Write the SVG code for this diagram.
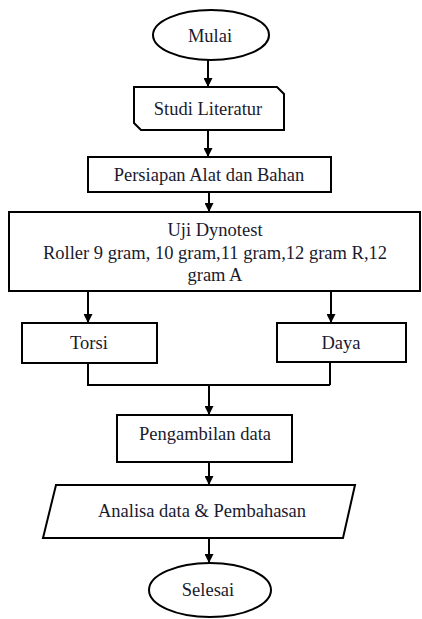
<svg xmlns="http://www.w3.org/2000/svg" width="422" height="619" viewBox="0 0 422 619">
<defs>
<marker id="arr" viewBox="0 0 10 10" refX="10" refY="5" markerWidth="4.5" markerHeight="4.5" orient="auto" markerUnits="strokeWidth">
<path d="M0,0 L10,5 L0,10 z" fill="#000"/>
</marker>
</defs>
<style>
.s{fill:#fff;stroke:#000;stroke-width:2}
text{font-family:'Liberation Serif','Times New Roman',serif;font-size:18.5px;fill:#1a1a2e;text-anchor:middle}
.c{fill:none;stroke:#000;stroke-width:2}
</style>
<rect width="422" height="619" fill="#fff"/>
<g id="connectors">
<line class="c" x1="208" y1="60" x2="208" y2="87" marker-end="url(#arr)"/>
<line class="c" x1="208" y1="130" x2="208" y2="157" marker-end="url(#arr)"/>
<line class="c" x1="209" y1="192" x2="209" y2="212" marker-end="url(#arr)"/>
<line class="c" x1="88" y1="291" x2="88" y2="323" marker-end="url(#arr)"/>
<line class="c" x1="331" y1="291" x2="331" y2="323" marker-end="url(#arr)"/>
<polyline class="c" points="88,363 88,385 330,385"/>
<line class="c" x1="330" y1="362" x2="330" y2="385"/>
<line class="c" x1="209" y1="385" x2="209" y2="415" marker-end="url(#arr)"/>
<line class="c" x1="209" y1="462" x2="209" y2="485" marker-end="url(#arr)"/>
<line class="c" x1="209" y1="538" x2="209" y2="563" marker-end="url(#arr)"/>
</g>
<g id="mulai">
<ellipse class="s" cx="211" cy="35" rx="58" ry="25"/>
<text x="210" y="42">Mulai</text>
</g>
<g id="studi">
<path class="s" d="M134,87 L277,87 L284,94 L284,130 L141,130 L134,123 Z"/>
<text x="208" y="115">Studi Literatur</text>
</g>
<g id="persiapan">
<rect class="s" x="88" y="157" width="243" height="35"/>
<text x="209" y="181">Persiapan Alat dan Bahan</text>
</g>
<g id="uji">
<rect class="s" x="9" y="212" width="411" height="79"/>
<text x="215" y="236">Uji Dynotest</text>
<text x="215" y="259">Roller 9 gram, 10 gram,11 gram,12 gram R,12</text>
<text x="215" y="281">gram A</text>
</g>
<g id="torsi">
<rect class="s" x="22" y="323" width="135" height="40"/>
<text x="89" y="349">Torsi</text>
</g>
<g id="daya">
<rect class="s" x="277" y="323" width="129" height="39"/>
<text x="341" y="349">Daya</text>
</g>
<g id="pengambilan">
<rect class="s" x="117" y="415" width="175" height="47"/>
<text x="205" y="440">Pengambilan data</text>
</g>
<g id="analisa">
<polygon class="s" points="56,485 355,485 343,538 43,538"/>
<text x="202" y="517">Analisa data &amp; Pembahasan</text>
</g>
<g id="selesai">
<ellipse class="s" cx="210" cy="590" rx="61" ry="27"/>
<text x="208" y="596">Selesai</text>
</g>
</svg>
